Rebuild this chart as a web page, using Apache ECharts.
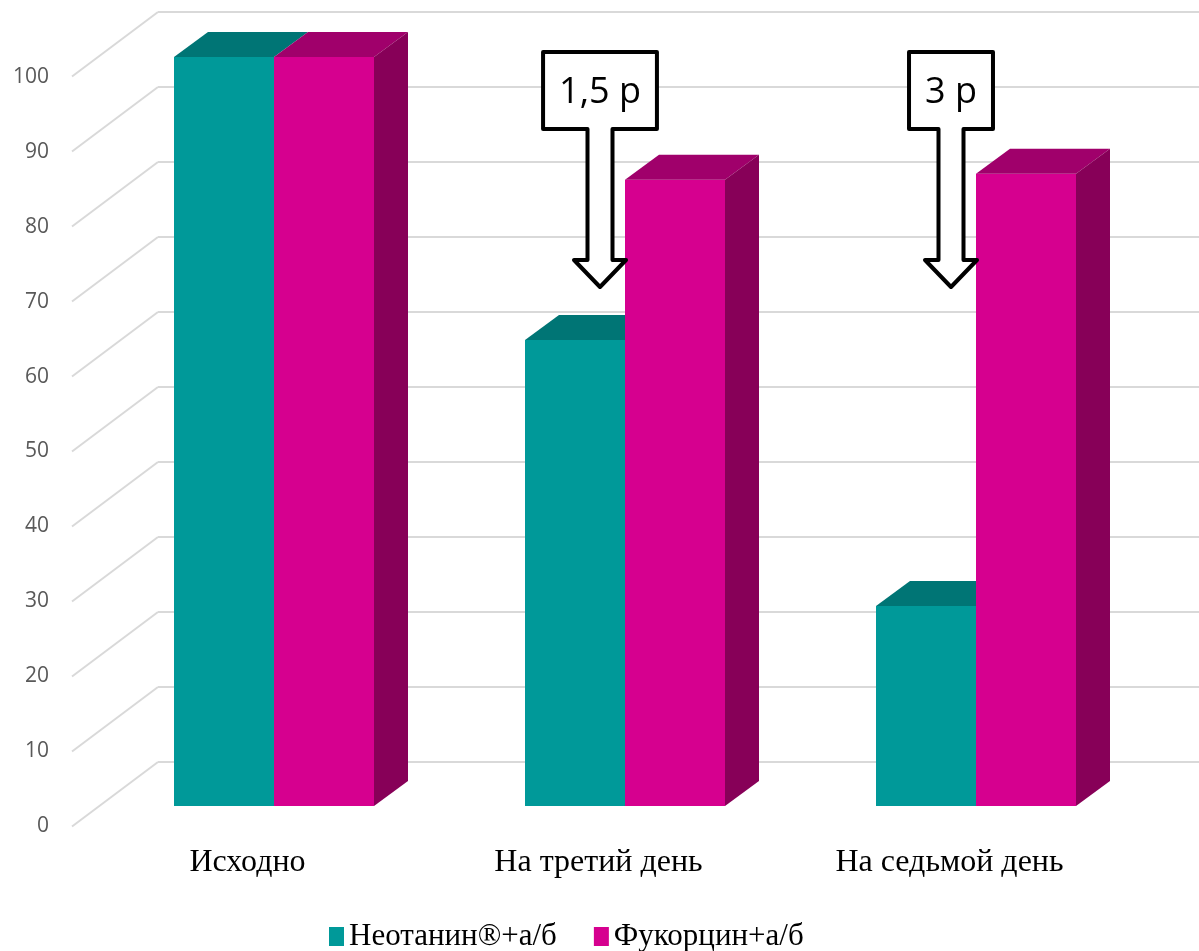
<!DOCTYPE html>
<html>
<head>
<meta charset="utf-8">
<title>chart</title>
<script src="https://cdn.jsdelivr.net/npm/echarts@6.0.0/dist/echarts.min.js"></script>
<style>
  html, body { margin: 0; padding: 0; background: #fff; }
  #main { width: 1199px; height: 951px; }
</style>
</head>
<body>
<div id="main"></div>
<script>
// данные
var categories = ['Исходно', 'На третий день', 'На седьмой день'];
var seriesNames = ['Неотанин®+а/б', 'Фукорцин+а/б'];
var neotanin = [100, 62.2, 26.7];
var fukorcin = [100, 83.6, 84.4];
var ratioLabels = ['', '1,5 р', '3 р'];
var yTicks = [0, 10, 20, 30, 40, 50, 60, 70, 80, 90, 100];

// псевдо-3D
var DEPTH_X = 86, DEPTH_Y = 64.5;   // стена -> передний план
var TOP_X = 34, TOP_Y = 25;         // глубина столбика
var BAR_FRAC = 100 / 351;

var colors = {
  teal: '#009999', tealTop: '#007575',
  pink: '#D6008F', pinkTop: '#A0006B', pinkSide: '#870058'
};

var measureCtx = document.createElement('canvas').getContext('2d');
function textWidth(t, font) {
  measureCtx.font = font;
  return measureCtx.measureText(t).width;
}

function renderDiag(params, api) {
  var cs = params.coordSys;
  var y = api.coord([0, api.value(1)])[1];
  return {
    type: 'line',
    shape: { x1: cs.x - DEPTH_X, y1: y + DEPTH_Y, x2: cs.x, y2: y },
    style: { stroke: '#d9d9d9', lineWidth: 2 }
  };
}

function barRenderer(side, front, topc, sidec) {
  return function (params, api) {
    var i = api.value(0);
    var base = api.coord([i, 0]);
    var top = api.coord([i, api.value(1)]);
    var w = api.size([1, 0])[0] * BAR_FRAC;
    var x0 = side === 0 ? base[0] - w : base[0];
    var x1 = x0 + w;
    var yt = top[1], yb = base[1];
    var children = [
      { type: 'rect', shape: { x: x0, y: yt, width: w, height: yb - yt }, style: { fill: front } },
      { type: 'polygon', shape: { points: [[x0, yt], [x1, yt], [x1 + TOP_X, yt - TOP_Y], [x0 + TOP_X, yt - TOP_Y]] }, style: { fill: topc } }
    ];
    if (sidec) {
      children.push({ type: 'polygon', shape: { points: [[x1, yt], [x1 + TOP_X, yt - TOP_Y], [x1 + TOP_X, yb - TOP_Y], [x1, yb]] }, style: { fill: sidec } });
    }
    return { type: 'group', children: children };
  };
}

function renderArrow(params, api) {
  var i = api.value(0);
  var label = ratioLabels[i];
  if (!label) return null;
  var cs = params.coordSys;
  var font = '36px "Open Sans"';
  var cx = api.coord([i, 0])[0] - 25;
  var half = textWidth(label, font) / 2 + 16;
  var top = cs.y - 5, bot = cs.y + 72, headY = cs.y + 203, tipY = cs.y + 230;
  var sh = 12.5, wing = 26;
  var pts = [
    [cx - half, top], [cx + half, top], [cx + half, bot], [cx + sh, bot],
    [cx + sh, headY], [cx + wing, headY], [cx, tipY], [cx - wing, headY],
    [cx - sh, headY], [cx - sh, bot], [cx - half, bot]
  ];
  return {
    type: 'group',
    children: [
      { type: 'polygon', shape: { points: pts }, style: { fill: '#fff', stroke: '#000', lineWidth: 4, lineJoin: 'round' } },
      { type: 'text', style: { text: label, x: cx, y: (top + bot) / 2 + 2, align: 'center', verticalAlign: 'middle', font: font, fill: '#000' } }
    ]
  };
}

var chartDom = document.getElementById('main');
var myChart = echarts.init(chartDom);
var option = {
  animation: false,
  color: [colors.teal, colors.pink],
  grid: [
    { left: 158, right: 0, top: 12, bottom: 189 },   // задняя стена
    { left: 72, right: 74, top: 77, bottom: 125 },   // передний план (подписи)
    { left: 98.5, right: 47.5, top: 57, bottom: 145 } // столбики
  ],
  legend: {
    data: seriesNames,
    left: 329,
    top: 921,
    padding: 0,
    icon: 'rect',
    itemWidth: 15,
    itemHeight: 19,
    itemGap: 37,
    textStyle: { fontFamily: '"Liberation Serif"', fontSize: 31, color: '#000' }
  },
  xAxis: [
    { type: 'category', gridIndex: 0, data: categories, show: false },
    {
      type: 'category', gridIndex: 1, data: categories,
      axisLine: { show: false }, axisTick: { show: false },
      axisLabel: { fontFamily: '"Liberation Serif"', fontSize: 32, color: '#000', margin: 21 }
    },
    { type: 'category', gridIndex: 2, data: categories, show: false }
  ],
  yAxis: [
    {
      type: 'value', gridIndex: 0, min: 0, max: 100, interval: 10,
      axisLabel: { show: false }, axisLine: { show: false }, axisTick: { show: false },
      splitLine: { lineStyle: { color: '#d9d9d9', width: 2 } }
    },
    {
      type: 'value', gridIndex: 1, min: 0, max: 100, interval: 10,
      axisLine: { show: false }, axisTick: { show: false }, splitLine: { show: false },
      axisLabel: { color: '#595959', fontSize: 21, fontFamily: '"Open Sans"', margin: 23 }
    },
    { type: 'value', gridIndex: 2, min: 0, max: 100, show: false, splitLine: { show: false } }
  ],
  series: [
    {
      type: 'custom', silent: true, xAxisIndex: 0, yAxisIndex: 0, z: 1,
      renderItem: renderDiag,
      data: yTicks.map(function (v) { return [0, v]; })
    },
    {
      type: 'custom', name: seriesNames[0], xAxisIndex: 2, yAxisIndex: 2, z: 2,
      itemStyle: { color: colors.teal },
      renderItem: barRenderer(0, colors.teal, colors.tealTop, null),
      data: neotanin.map(function (v, i) { return [i, v]; })
    },
    {
      type: 'custom', name: seriesNames[1], xAxisIndex: 2, yAxisIndex: 2, z: 3,
      itemStyle: { color: colors.pink },
      renderItem: barRenderer(1, colors.pink, colors.pinkTop, colors.pinkSide),
      data: fukorcin.map(function (v, i) { return [i, v]; })
    },
    {
      type: 'custom', silent: true, xAxisIndex: 2, yAxisIndex: 2, z: 4,
      renderItem: renderArrow,
      data: ratioLabels.map(function (t, i) { return [i, 0]; })
    }
  ]
};
myChart.setOption(option);
</script>
</body>
</html>
